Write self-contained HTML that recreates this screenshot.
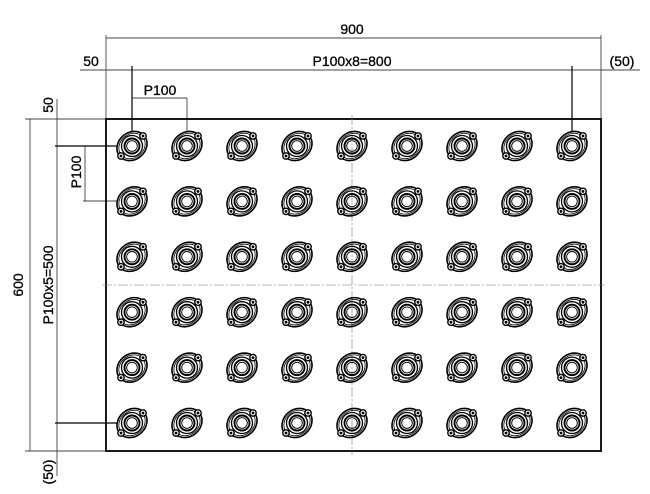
<!DOCTYPE html>
<html><head><style>html,body{margin:0;padding:0;background:#fff}svg{display:block}</style></head>
<body>
<svg width="650" height="494" viewBox="0 0 650 494" xmlns="http://www.w3.org/2000/svg" font-family="Liberation Sans, sans-serif">
<defs>
<g id="t" fill="none" stroke="#000" stroke-width="1">
<ellipse cx="0" cy="0" rx="16" ry="13.5" transform="rotate(-40)" stroke-width="1.6"/>
<ellipse cx="0" cy="0" rx="14" ry="11.8" transform="rotate(-40)" stroke-width="0.8"/>
<circle r="10.5" stroke-width="1.3"/>
<circle r="7.5" stroke-width="1.9"/>
<circle r="5.3" stroke-width="0.9"/>
<circle cx="11" cy="-10" r="3.2" fill="#fff" stroke-width="1.4"/>
<circle cx="-11" cy="10" r="3.2" fill="#fff" stroke-width="1.4"/>
<circle cx="11" cy="-10" r="1.4" fill="#000" stroke="none"/>
<circle cx="-11" cy="10" r="1.4" fill="#000" stroke="none"/>
</g>
</defs>
<g stroke="#444" stroke-width="0.9" fill="none">
<line x1="106" y1="38" x2="601" y2="38"/>
<line x1="80" y1="70" x2="640" y2="70"/>
<line x1="106" y1="35" x2="106" y2="119"/>
<line x1="601" y1="35" x2="601" y2="119"/>
<line x1="132" y1="98" x2="187" y2="98"/>
<line x1="187" y1="98" x2="187" y2="131"/>
<line x1="30" y1="119" x2="30" y2="451"/>
<line x1="57" y1="99" x2="57" y2="476"/>
<line x1="25" y1="119" x2="106" y2="119"/>
<line x1="25" y1="451" x2="106" y2="451"/>
<line x1="85" y1="146" x2="85" y2="201"/>
<line x1="83" y1="201" x2="117" y2="201"/>
</g>
<g stroke="#000" stroke-width="1.2">
<line x1="132" y1="66" x2="132" y2="132"/>
<line x1="572" y1="66" x2="572" y2="132"/>
<line x1="55" y1="146" x2="117" y2="146"/>
<line x1="55" y1="423" x2="117" y2="423"/>
</g>
<rect x="106" y="119" width="495" height="332" fill="none" stroke="#000" stroke-width="1.8"/>
<g stroke="#777" stroke-width="0.6" stroke-dasharray="10,2,2,2">
<line x1="352" y1="115" x2="352" y2="455"/>
<line x1="102" y1="285" x2="605" y2="285"/>
</g>
<g id="grid">
<g id="row">
<use href="#t" x="132" y="146"/><use href="#t" x="187" y="146"/><use href="#t" x="242" y="146"/><use href="#t" x="297" y="146"/><use href="#t" x="352" y="146"/><use href="#t" x="407" y="146"/><use href="#t" x="462" y="146"/><use href="#t" x="517" y="146"/><use href="#t" x="572" y="146"/>
</g>
<use href="#row" y="55.4"/><use href="#row" y="110.8"/><use href="#row" y="166.2"/><use href="#row" y="221.6"/><use href="#row" y="277"/>
</g>
<g font-size="14" fill="#000" stroke="#000" stroke-width="0.3">
<text x="352" y="34" text-anchor="middle">900</text>
<text x="91" y="66" text-anchor="middle">50</text>
<text x="352" y="66" text-anchor="middle">P100x8=800</text>
<text x="622" y="66" text-anchor="middle">(50)</text>
<text x="160" y="95" text-anchor="middle">P100</text>
<text transform="translate(23,285) rotate(-90)" text-anchor="middle">600</text>
<text transform="translate(53,105) rotate(-90)" text-anchor="middle">50</text>
<text transform="translate(53,285) rotate(-90)" text-anchor="middle">P100x5=500</text>
<text transform="translate(53,472) rotate(-90)" text-anchor="middle">(50)</text>
<text transform="translate(81,172) rotate(-90)" text-anchor="middle">P100</text>
</g>
</svg>
</body></html>
